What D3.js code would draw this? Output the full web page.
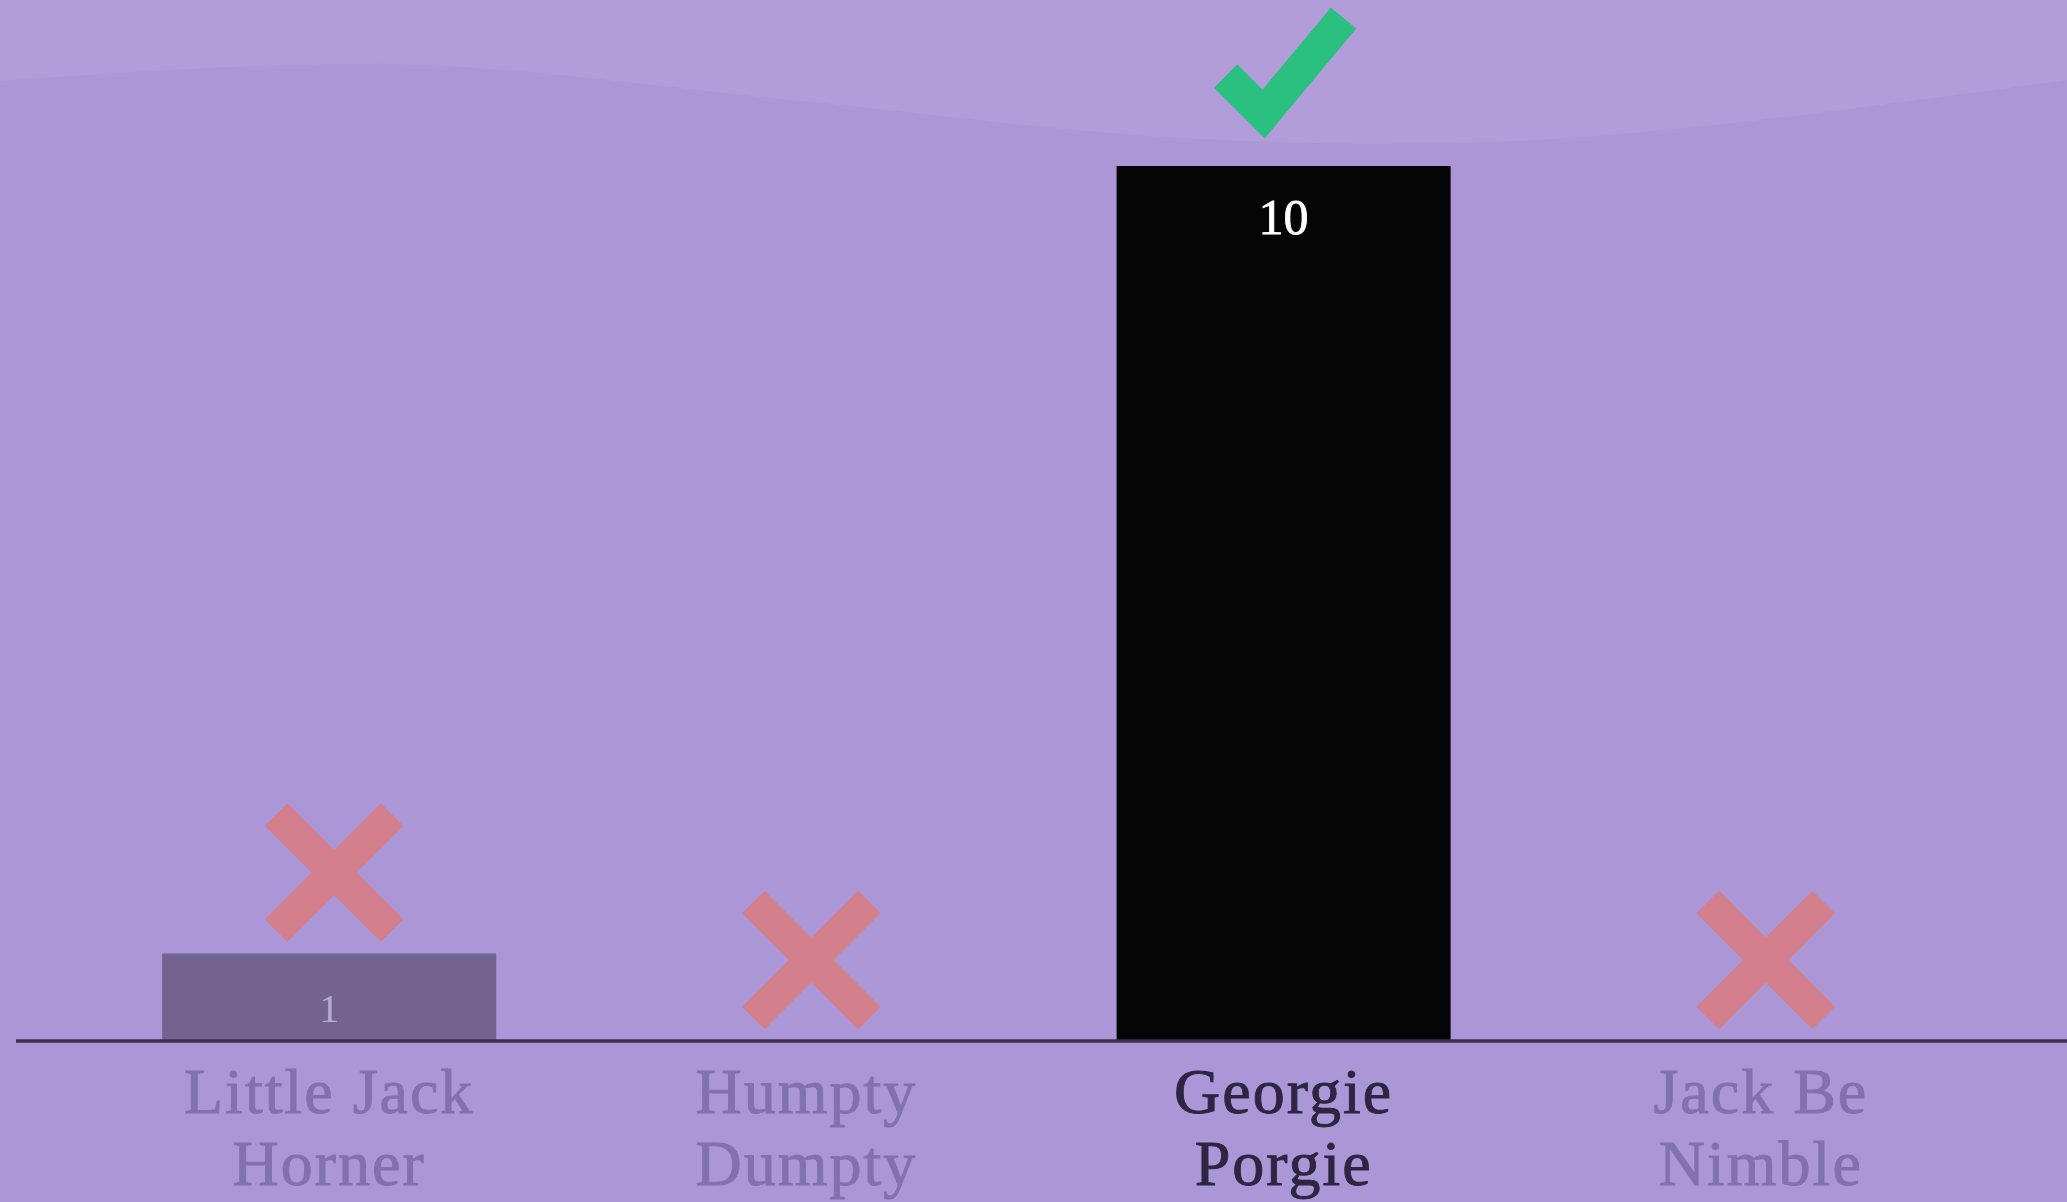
<!DOCTYPE html>
<html>
<head>
<meta charset="utf-8">
<script src="https://cdn.jsdelivr.net/npm/d3@7"></script>
<style>
  html, body { margin: 0; padding: 0; background: #ab97d7; overflow: hidden; }
  svg { display: block; }
</style>
</head>
<body>
<svg id="chart" width="2067" height="1202"></svg>
<script>
// ---- data ----
const categories = ["Little Jack Horner", "Humpty Dumpty", "Georgie Porgie", "Jack Be Nimble"];
const labelLines = [["Little Jack", "Horner"], ["Humpty", "Dumpty"], ["Georgie", "Porgie"], ["Jack Be", "Nimble"]];
const values = [1, 0, 10, 0];
const correct = [false, false, true, false];
// decorative background wave (top band)
const wavePoints = [[0, 81], [395, 64], [791, 100], [1150, 136], [1450, 143], [1714, 125], [2067, 80]];

// ---- layout ----
const W = 2067, H = 1202;
const baseY = 1041, topY = 166;
const svg = d3.select("#chart");

svg.append("rect").attr("width", W).attr("height", H).attr("fill", "#ab97d7");

const waveArea = d3.area()
  .x(d => d[0]).y0(0).y1(d => d[1])
  .curve(d3.curveCardinal);
svg.append("path").datum(wavePoints).attr("d", waveArea).attr("fill", "#b39cda");

const x = d3.scaleBand().domain(categories).range([19, W + 4]).paddingInner(0.3).paddingOuter(0.3);
const y = d3.scaleLinear().domain([0, d3.max(values)]).range([baseY, topY]);

const data = categories.map((c, i) => ({ c, v: values[i], ok: correct[i], lines: labelLines[i] }));

// bars
svg.selectAll("rect.bar").data(data).join("rect")
  .attr("class", "bar")
  .attr("x", d => x(d.c))
  .attr("width", x.bandwidth())
  .attr("y", d => y(d.v))
  .attr("height", d => y(0) - y(d.v))
  .attr("fill", d => d.ok ? "#050505" : "#72638f");

// value labels
svg.selectAll("text.val").data(data.filter(d => d.v > 0)).join("text")
  .attr("class", "val")
  .attr("x", d => x(d.c) + x.bandwidth() / 2)
  .attr("y", d => y(d.v) + 68)
  .attr("text-anchor", "middle")
  .attr("font-family", "'Liberation Serif', serif")
  .attr("font-size", d => d.ok ? 50 : 40)
  .attr("fill", d => d.ok ? "#ffffff" : "#b8a9d2")
  .attr("stroke", d => d.ok ? "#ffffff" : "none")
  .attr("stroke-width", 0.8)
  .text(d => d.v);

// axis line
const axis = d3.axisBottom(x).tickSize(0).tickFormat("");
const gAxis = svg.append("g").attr("transform", `translate(0,${baseY})`).call(axis);
gAxis.select(".domain").attr("d", `M16,0H${W}`).attr("stroke", "#3a3050").attr("stroke-width", 3.5);

// category labels
const lab = svg.selectAll("text.cat").data(data).join("text")
  .attr("class", "cat")
  .attr("text-anchor", "middle")
  .attr("font-family", "'Liberation Serif', serif")
  .attr("font-size", 64)
  .attr("letter-spacing", 2)
  .attr("fill", d => d.ok ? "#2d2541" : "#8270b0")
  .attr("stroke", d => d.ok ? "#2d2541" : "#8270b0")
  .attr("stroke-width", 0.9);
lab.selectAll("tspan").data(d => d.lines.map((l, k) => ({ l, k, d }))).join("tspan")
  .attr("x", t => x(t.d.c) + x.bandwidth() / 2)
  .attr("y", t => baseY + 72 + t.k * 72)
  .text(t => t.l);

// markers: check for correct, cross for wrong
const markers = svg.selectAll("g.mark").data(data).join("g")
  .attr("class", "mark")
  .attr("transform", d => `translate(${x(d.c) + x.bandwidth() / 2},${y(d.v)})`);

markers.filter(d => d.ok).append("path")
  .attr("d", "M-58,-90L-20,-52L60,-148")
  .attr("fill", "none")
  .attr("stroke", "#2bc07f")
  .attr("stroke-width", 33)
  .attr("stroke-linejoin", "miter")
  .attr("stroke-linecap", "butt");

markers.filter(d => !d.ok).append("path")
  .attr("d", "M-53,-139L63,-23M63,-139L-53,-23")
  .attr("fill", "none")
  .attr("stroke", "#d47f8c")
  .attr("stroke-width", 32)
  .attr("stroke-linecap", "butt");
</script>
</body>
</html>
